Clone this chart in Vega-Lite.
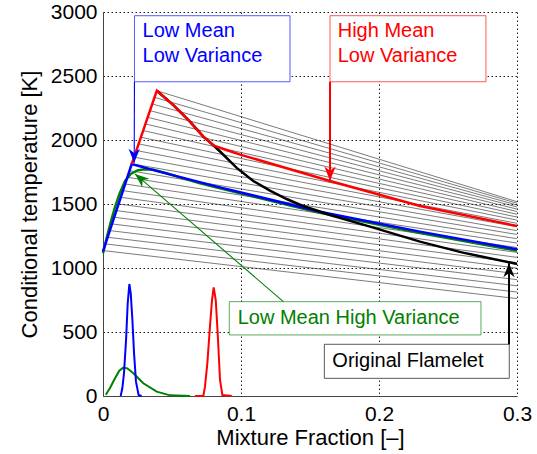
{
  "$schema": "https://vega.github.io/schema/vega-lite/v6.json",
  "width": 414,
  "height": 384,
  "autosize": "none",
  "padding": {"left": 103, "top": 12, "right": 20, "bottom": 58},
  "config": {
    "view": {"stroke": null},
    "font": "Liberation Sans",
    "axis": {
      "labelFont": "Liberation Sans",
      "titleFont": "Liberation Sans",
      "labelFontSize": 21,
      "titleFontSize": 22,
      "titleFontWeight": "normal",
      "labelColor": "#000",
      "titleColor": "#000",
      "labelFlush": false,
      "labelOverlap": false,
      "domainColor": "#444",
      "domainWidth": 1,
      "ticks": false,
      "tickSize": 0,
      "grid": true,
      "gridColor": "#222",
      "gridDash": [1.5, 2.5],
      "gridWidth": 1,
      "gridOpacity": 1
    }
  },
  "datasets": {
    "flamelets": [
      {"id": 0, "x": 0.0390, "T": 2385}, {"id": 0, "x": 0.3, "T": 1518},
      {"id": 1, "x": 0.0374, "T": 2333}, {"id": 1, "x": 0.3, "T": 1506},
      {"id": 2, "x": 0.0358, "T": 2281}, {"id": 2, "x": 0.3, "T": 1492},
      {"id": 3, "x": 0.0342, "T": 2229}, {"id": 3, "x": 0.3, "T": 1477},
      {"id": 4, "x": 0.0325, "T": 2177}, {"id": 4, "x": 0.3, "T": 1460},
      {"id": 5, "x": 0.0309, "T": 2125}, {"id": 5, "x": 0.3, "T": 1441},
      {"id": 6, "x": 0.0293, "T": 2073}, {"id": 6, "x": 0.3, "T": 1420},
      {"id": 7, "x": 0.0277, "T": 2021}, {"id": 7, "x": 0.3, "T": 1398},
      {"id": 8, "x": 0.0261, "T": 1969}, {"id": 8, "x": 0.3, "T": 1374},
      {"id": 9, "x": 0.0245, "T": 1917}, {"id": 9, "x": 0.3, "T": 1349},
      {"id": 10, "x": 0.0228, "T": 1865}, {"id": 10, "x": 0.3, "T": 1322},
      {"id": 11, "x": 0.0212, "T": 1813}, {"id": 11, "x": 0.3, "T": 1292},
      {"id": 12, "x": 0.0196, "T": 1760}, {"id": 12, "x": 0.3, "T": 1262},
      {"id": 13, "x": 0.0180, "T": 1708}, {"id": 13, "x": 0.3, "T": 1229},
      {"id": 14, "x": 0.0163, "T": 1656}, {"id": 14, "x": 0.3, "T": 1195},
      {"id": 15, "x": 0.0147, "T": 1604}, {"id": 15, "x": 0.3, "T": 1160},
      {"id": 16, "x": 0.0131, "T": 1552}, {"id": 16, "x": 0.3, "T": 1122},
      {"id": 17, "x": 0.0115, "T": 1500}, {"id": 17, "x": 0.3, "T": 1083},
      {"id": 18, "x": 0.0099, "T": 1448}, {"id": 18, "x": 0.3, "T": 1042},
      {"id": 19, "x": 0.0083, "T": 1396}, {"id": 19, "x": 0.3, "T": 999},
      {"id": 20, "x": 0.0067, "T": 1344}, {"id": 20, "x": 0.3, "T": 955},
      {"id": 21, "x": 0.0050, "T": 1292}, {"id": 21, "x": 0.3, "T": 909},
      {"id": 22, "x": 0.0034, "T": 1240}, {"id": 22, "x": 0.3, "T": 861},
      {"id": 23, "x": 0.0018, "T": 1188}, {"id": 23, "x": 0.3, "T": 812},
      {"id": 24, "x": 0.0002, "T": 1136}, {"id": 24, "x": 0.3, "T": 761}
    ],
    "curves": [
      {"series": "Low Mean High Variance", "x": 0, "T": 1115},
      {"series": "Low Mean High Variance", "x": 0.003, "T": 1250},
      {"series": "Low Mean High Variance", "x": 0.006, "T": 1375},
      {"series": "Low Mean High Variance", "x": 0.009, "T": 1485},
      {"series": "Low Mean High Variance", "x": 0.012, "T": 1580},
      {"series": "Low Mean High Variance", "x": 0.016, "T": 1680},
      {"series": "Low Mean High Variance", "x": 0.02, "T": 1735},
      {"series": "Low Mean High Variance", "x": 0.025, "T": 1763},
      {"series": "Low Mean High Variance", "x": 0.03, "T": 1772},
      {"series": "Low Mean High Variance", "x": 0.0365, "T": 1768},
      {"series": "Low Mean High Variance", "x": 0.046, "T": 1740},
      {"series": "Low Mean High Variance", "x": 0.058, "T": 1700},
      {"series": "Low Mean High Variance", "x": 0.0703, "T": 1661},
      {"series": "Low Mean High Variance", "x": 0.0848, "T": 1622},
      {"series": "Low Mean High Variance", "x": 0.1572, "T": 1431},
      {"series": "Low Mean High Variance", "x": 0.2297, "T": 1274},
      {"series": "Low Mean High Variance", "x": 0.3, "T": 1135},
      {"series": "Low Mean Low Variance", "x": 0, "T": 1130},
      {"series": "Low Mean Low Variance", "x": 0.0208, "T": 1812},
      {"series": "Low Mean Low Variance", "x": 0.04, "T": 1755},
      {"series": "Low Mean Low Variance", "x": 0.0848, "T": 1630},
      {"series": "Low Mean Low Variance", "x": 0.1572, "T": 1440},
      {"series": "Low Mean Low Variance", "x": 0.2297, "T": 1284},
      {"series": "Low Mean Low Variance", "x": 0.3, "T": 1146},
      {"series": "Original Flamelet", "x": 0.039, "T": 2385},
      {"series": "Original Flamelet", "x": 0.051, "T": 2273},
      {"series": "Original Flamelet", "x": 0.063, "T": 2143},
      {"series": "Original Flamelet", "x": 0.0727, "T": 2026},
      {"series": "Original Flamelet", "x": 0.0804, "T": 1955},
      {"series": "Original Flamelet", "x": 0.0848, "T": 1910},
      {"series": "Original Flamelet", "x": 0.0969, "T": 1782},
      {"series": "Original Flamelet", "x": 0.1089, "T": 1680},
      {"series": "Original Flamelet", "x": 0.121, "T": 1604},
      {"series": "Original Flamelet", "x": 0.1331, "T": 1539},
      {"series": "Original Flamelet", "x": 0.1452, "T": 1484},
      {"series": "Original Flamelet", "x": 0.1645, "T": 1414},
      {"series": "Original Flamelet", "x": 0.1935, "T": 1323},
      {"series": "Original Flamelet", "x": 0.2297, "T": 1206},
      {"series": "Original Flamelet", "x": 0.26, "T": 1122},
      {"series": "Original Flamelet", "x": 0.3, "T": 1032},
      {"series": "High Mean Low Variance", "x": 0.0208, "T": 1812},
      {"series": "High Mean Low Variance", "x": 0.039, "T": 2385},
      {"series": "High Mean Low Variance", "x": 0.051, "T": 2273},
      {"series": "High Mean Low Variance", "x": 0.063, "T": 2143},
      {"series": "High Mean Low Variance", "x": 0.0727, "T": 2026},
      {"series": "High Mean Low Variance", "x": 0.0804, "T": 1955},
      {"series": "High Mean Low Variance", "x": 0.09, "T": 1920},
      {"series": "High Mean Low Variance", "x": 0.1, "T": 1884},
      {"series": "High Mean Low Variance", "x": 0.1645, "T": 1680},
      {"series": "High Mean Low Variance", "x": 0.2297, "T": 1484},
      {"series": "High Mean Low Variance", "x": 0.3, "T": 1328}
    ],
    "pdfs": [
      {"series": "Low Mean High Variance", "x": 0.002, "p": 10},
      {"series": "Low Mean High Variance", "x": 0.005, "p": 60},
      {"series": "Low Mean High Variance", "x": 0.0087, "p": 138},
      {"series": "Low Mean High Variance", "x": 0.0118, "p": 198},
      {"series": "Low Mean High Variance", "x": 0.0147, "p": 222},
      {"series": "Low Mean High Variance", "x": 0.0176, "p": 216},
      {"series": "Low Mean High Variance", "x": 0.022, "p": 177},
      {"series": "Low Mean High Variance", "x": 0.0292, "p": 99},
      {"series": "Low Mean High Variance", "x": 0.0389, "p": 34},
      {"series": "Low Mean High Variance", "x": 0.0486, "p": 5},
      {"series": "Low Mean High Variance", "x": 0.063, "p": 0},
      {"series": "Low Mean Low Variance", "x": 0.0128, "p": 0},
      {"series": "Low Mean Low Variance", "x": 0.014, "p": 60},
      {"series": "Low Mean Low Variance", "x": 0.0152, "p": 177},
      {"series": "Low Mean Low Variance", "x": 0.0167, "p": 437},
      {"series": "Low Mean Low Variance", "x": 0.0179, "p": 724},
      {"series": "Low Mean Low Variance", "x": 0.0191, "p": 875},
      {"series": "Low Mean Low Variance", "x": 0.0201, "p": 802},
      {"series": "Low Mean Low Variance", "x": 0.0213, "p": 594},
      {"series": "Low Mean Low Variance", "x": 0.0225, "p": 333},
      {"series": "Low Mean Low Variance", "x": 0.0239, "p": 112},
      {"series": "Low Mean Low Variance", "x": 0.0258, "p": 8},
      {"series": "Low Mean Low Variance", "x": 0.028, "p": 0},
      {"series": "High Mean Low Variance", "x": 0.0667, "p": 0},
      {"series": "High Mean Low Variance", "x": 0.0727, "p": 0},
      {"series": "High Mean Low Variance", "x": 0.0739, "p": 73},
      {"series": "High Mean Low Variance", "x": 0.0756, "p": 255},
      {"series": "High Mean Low Variance", "x": 0.0775, "p": 541},
      {"series": "High Mean Low Variance", "x": 0.079, "p": 750},
      {"series": "High Mean Low Variance", "x": 0.0802, "p": 849},
      {"series": "High Mean Low Variance", "x": 0.0817, "p": 750},
      {"series": "High Mean Low Variance", "x": 0.0831, "p": 490},
      {"series": "High Mean Low Variance", "x": 0.0848, "p": 125},
      {"series": "High Mean Low Variance", "x": 0.0865, "p": 8},
      {"series": "High Mean Low Variance", "x": 0.0933, "p": 0}
    ],
    "boxes": [
      {"series": "Low Mean Low Variance", "x": 0.0228, "x2": 0.1355, "y": 2455, "y2": 2971},
      {"series": "High Mean Low Variance", "x": 0.1645, "x2": 0.2775, "y": 2455, "y2": 2971},
      {"series": "Low Mean High Variance", "x": 0.0915, "x2": 0.2739, "y": 477, "y2": 737},
      {"series": "Original Flamelet", "x": 0.1604, "x2": 0.2944, "y": 138, "y2": 404}
    ],
    "arrows": [
      {"series": "Low Mean Low Variance", "x": 0.0228, "y": 2455, "x2": 0.0226, "y2": 1822},
      {"series": "High Mean Low Variance", "x": 0.1645, "y": 2455, "x2": 0.1645, "y2": 1682},
      {"series": "Low Mean High Variance", "x": 0.1307, "y": 737, "x2": 0.0232, "y2": 1735},
      {"series": "Original Flamelet", "x": 0.2942, "y": 404, "x2": 0.2942, "y2": 1038}
    ],
    "labels": [
      {"series": "Low Mean Low Variance", "text": "Low Mean", "x": 0.0287, "y": 2802},
      {"series": "Low Mean Low Variance", "text": "Low Variance", "x": 0.0287, "y": 2612},
      {"series": "High Mean Low Variance", "text": "High Mean", "x": 0.1701, "y": 2802},
      {"series": "High Mean Low Variance", "text": "Low Variance", "x": 0.1701, "y": 2612},
      {"series": "Low Mean High Variance", "text": "Low Mean High Variance", "x": 0.0976, "y": 562},
      {"series": "Original Flamelet", "text": "Original Flamelet", "x": 0.1662, "y": 229}
    ]
  },
  "layer": [
    {
      "data": {"name": "flamelets"},
      "mark": {"type": "line", "stroke": "#222", "strokeWidth": 0.6, "clip": true},
      "encoding": {
        "x": {"field": "x", "type": "quantitative", "scale": {"domain": [0, 0.3], "nice": false, "zero": false},
              "axis": {"values": [0, 0.1, 0.2, 0.3], "format": ".1~f", "title": "Mixture Fraction [–]", "labelPadding": 7, "titlePadding": 3}},
        "y": {"field": "T", "type": "quantitative", "scale": {"domain": [0, 3000], "nice": false},
              "axis": {"values": [0, 500, 1000, 1500, 2000, 2500, 3000], "format": "d", "title": "Conditional temperature [K]", "labelPadding": 6, "titlePadding": 9}},
        "detail": {"field": "id", "type": "nominal"}
      }
    },
    {
      "data": {"name": "curves"},
      "transform": [{"filter": "datum.series == 'Low Mean High Variance'"}],
      "mark": {"type": "line", "strokeWidth": 2.5},
      "encoding": {
        "x": {"field": "x", "type": "quantitative"},
        "y": {"field": "T", "type": "quantitative"},
        "color": {"field": "series", "type": "nominal", "legend": null,
                  "scale": {"domain": ["Low Mean Low Variance", "High Mean Low Variance", "Low Mean High Variance", "Original Flamelet"], "range": ["#0000ff", "#ff0000", "#008000", "#000000"]}}
      }
    },
    {
      "data": {"name": "curves"},
      "transform": [{"filter": "datum.series == 'Low Mean Low Variance'"}],
      "mark": {"type": "line", "strokeWidth": 2.5},
      "encoding": {
        "x": {"field": "x", "type": "quantitative"},
        "y": {"field": "T", "type": "quantitative"},
        "color": {"field": "series", "type": "nominal", "legend": null}
      }
    },
    {
      "data": {"name": "curves"},
      "transform": [{"filter": "datum.series == 'Original Flamelet'"}],
      "mark": {"type": "line", "strokeWidth": 2.5},
      "encoding": {
        "x": {"field": "x", "type": "quantitative"},
        "y": {"field": "T", "type": "quantitative"},
        "color": {"field": "series", "type": "nominal", "legend": null}
      }
    },
    {
      "data": {"name": "curves"},
      "transform": [{"filter": "datum.series == 'High Mean Low Variance'"}],
      "mark": {"type": "line", "strokeWidth": 2.5},
      "encoding": {
        "x": {"field": "x", "type": "quantitative"},
        "y": {"field": "T", "type": "quantitative"},
        "color": {"field": "series", "type": "nominal", "legend": null}
      }
    },
    {
      "data": {"name": "pdfs"},
      "mark": {"type": "line", "strokeWidth": 2},
      "encoding": {
        "x": {"field": "x", "type": "quantitative"},
        "y": {"field": "p", "type": "quantitative"},
        "color": {"field": "series", "type": "nominal", "legend": null}
      }
    },
    {
      "data": {"name": "boxes"},
      "mark": {"type": "rect", "fill": "white", "strokeWidth": 1, "strokeOpacity": 0.65},
      "encoding": {
        "x": {"field": "x", "type": "quantitative"},
        "x2": {"field": "x2"},
        "y": {"field": "y", "type": "quantitative"},
        "y2": {"field": "y2"},
        "stroke": {"field": "series", "type": "nominal", "legend": null,
                   "scale": {"domain": ["Low Mean Low Variance", "High Mean Low Variance", "Low Mean High Variance", "Original Flamelet"], "range": ["#0000ff", "#ff0000", "#008000", "#000000"]}}
      }
    },
    {
      "data": {"name": "arrows"},
      "transform": [{"filter": "datum.series == 'Low Mean Low Variance' || datum.series == 'Low Mean High Variance'"}],
      "mark": {"type": "rule", "strokeWidth": 1.1},
      "encoding": {
        "x": {"field": "x", "type": "quantitative"},
        "y": {"field": "y", "type": "quantitative"},
        "x2": {"field": "x2"},
        "y2": {"field": "y2"},
        "color": {"field": "series", "type": "nominal", "legend": null}
      }
    },
    {
      "data": {"name": "arrows"},
      "transform": [{"filter": "datum.series == 'High Mean Low Variance' || datum.series == 'Original Flamelet'"}],
      "mark": {"type": "rule", "strokeWidth": 2},
      "encoding": {
        "x": {"field": "x", "type": "quantitative"},
        "y": {"field": "y", "type": "quantitative"},
        "x2": {"field": "x2"},
        "y2": {"field": "y2"},
        "color": {"field": "series", "type": "nominal", "legend": null}
      }
    },
    {
      "data": {"name": "arrows"},
      "transform": [{"filter": "datum.series == 'Low Mean Low Variance' || datum.series == 'High Mean Low Variance'"}],
      "mark": {"type": "point", "filled": true, "opacity": 1, "size": 800, "angle": 180, "shape": "M0,0 L0.4,1 L0,0.7 L-0.4,1 Z"},
      "encoding": {
        "x": {"field": "x2", "type": "quantitative"},
        "y": {"field": "y2", "type": "quantitative"},
        "color": {"field": "series", "type": "nominal", "legend": null}
      }
    },
    {
      "data": {"name": "arrows"},
      "transform": [{"filter": "datum.series == 'Original Flamelet'"}],
      "mark": {"type": "point", "filled": true, "opacity": 1, "size": 800, "angle": 0, "shape": "M0,0 L0.4,1 L0,0.7 L-0.4,1 Z"},
      "encoding": {
        "x": {"field": "x2", "type": "quantitative"},
        "y": {"field": "y2", "type": "quantitative"},
        "color": {"field": "series", "type": "nominal", "legend": null}
      }
    },
    {
      "data": {"name": "arrows"},
      "transform": [{"filter": "datum.series == 'Low Mean High Variance'"}],
      "mark": {"type": "point", "filled": true, "opacity": 1, "size": 800, "angle": 310, "shape": "M0,0 L0.4,1 L0,0.7 L-0.4,1 Z"},
      "encoding": {
        "x": {"field": "x2", "type": "quantitative"},
        "y": {"field": "y2", "type": "quantitative"},
        "color": {"field": "series", "type": "nominal", "legend": null}
      }
    },
    {
      "data": {"name": "labels"},
      "mark": {"type": "text", "align": "left", "baseline": "alphabetic", "fontSize": 20, "font": "Liberation Sans"},
      "encoding": {
        "x": {"field": "x", "type": "quantitative"},
        "y": {"field": "y", "type": "quantitative"},
        "text": {"field": "text"},
        "color": {"field": "series", "type": "nominal", "legend": null}
      }
    }
  ]
}
